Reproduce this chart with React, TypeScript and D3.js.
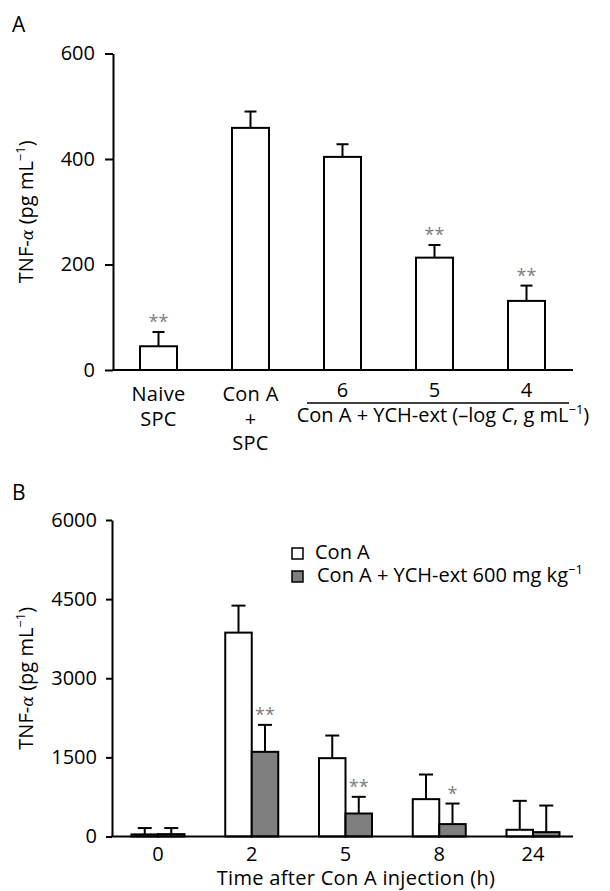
import React, { useEffect, useRef } from "react";
import * as d3 from "d3";

// panel A: in vitro, Con A stimulated spleen cells
const catsA = ["naive", "conA", "6", "5", "4"];
const meanA = [45, 459, 404, 213, 131];
const errA = [27, 31, 24, 24, 29];
const sigA = ["**", "", "", "**", "**"];
const ticksA = [0, 200, 400, 600];

// panel B: time course in vivo
const timesB = ["0", "2", "5", "8", "24"];
const seriesB = ["Con A", "Con A + YCH-ext 600 mg kg"];
const conA = [40, 3865, 1485, 708, 127];
const conAErr = [120, 512, 429, 467, 549];
const ych = [45, 1605, 436, 235, 83];
const ychErr = [115, 511, 316, 390, 504];
const sigB = ["", "**", "**", "*", ""];
const ticksB = [0, 1500, 3000, 4500, 6000];

const FONT = "'Open Sans', 'Noto Sans', sans-serif";
const FS = "20px";
const SUP = "13px";
const GRAY = "#7f7f7f";

const App = () => {
  const ref = useRef<SVGSVGElement>(null);

  useEffect(() => {
    document.body.style.margin = "0";
    const svg = d3.select(ref.current);
    svg.selectAll("*").remove();
    svg.style("font-family", FONT);

    // y label with italic alpha and superscript -1
    const yLabel = (cx: number, cy: number) => {
      const t = svg.append("text")
        .attr("transform", `translate(${cx},${cy}) rotate(-90)`)
        .attr("text-anchor", "middle")
        .style("font-size", FS);
      t.append("tspan").text("TNF-");
      t.append("tspan").style("font-family", "'DejaVu Serif', serif").style("font-style", "italic").style("font-size", "16px").text("α");
      t.append("tspan").text(" (pg mL");
      t.append("tspan").attr("dy", -8).style("font-size", SUP).text("−1");
      t.append("tspan").attr("dy", 8).text(")");
    };

    const errBar = (g: any, cx: number, yTop: number, yErr: number, cap: number) => {
      g.append("line").attr("x1", cx).attr("x2", cx).attr("y1", yTop).attr("y2", yErr)
        .attr("stroke", "#000").attr("stroke-width", 2);
      g.append("line").attr("x1", cx - cap / 2).attr("x2", cx + cap / 2).attr("y1", yErr).attr("y2", yErr)
        .attr("stroke", "#000").attr("stroke-width", 2);
    };

    // ---------- Panel A ----------
    const yA = d3.scaleLinear().domain([0, 600]).range([370, 53.5]);
    const xA = d3.scalePoint().domain(catsA).range([158.5, 526.5]);
    const bwA = 37;

    svg.append("text").attr("x", 12).attr("y", 32).style("font-size", "21px").text("A");

    const axA = svg.append("g").attr("transform", "translate(113,0)")
      .call(d3.axisLeft(yA).tickValues(ticksA).tickFormat(d3.format("d")).tickSize(8).tickPadding(10).tickSizeOuter(0));
    axA.selectAll("path, line").attr("stroke", "#000").attr("stroke-width", 2);
    axA.selectAll("text").style("font-size", FS).style("font-family", FONT).attr("fill", "#000");

    const gA = svg.append("g");
    catsA.forEach((c, i) => {
      const cx = xA(c)!;
      gA.append("rect").attr("x", cx - bwA / 2).attr("y", yA(meanA[i]))
        .attr("width", bwA).attr("height", yA(0) - yA(meanA[i]))
        .attr("fill", "#fff").attr("stroke", "#000").attr("stroke-width", 2);
      errBar(gA, cx, yA(meanA[i]), yA(meanA[i] + errA[i]), 12);
      if (sigA[i]) {
        gA.append("text").attr("x", cx).attr("y", yA(meanA[i] + errA[i]) - 4)
          .attr("text-anchor", "middle").style("font-size", "18px").attr("fill", "#808080").text(sigA[i]);
      }
    });
    svg.append("line").attr("x1", 112).attr("x2", 573).attr("y1", yA(0)).attr("y2", yA(0))
      .attr("stroke", "#000").attr("stroke-width", 2);

    // x labels of panel A
    const lab = (x: number, y: number, s: string) =>
      svg.append("text").attr("x", x).attr("y", y).attr("text-anchor", "middle")
        .style("font-size", FS).style("letter-spacing", "0.3px").text(s);
    lab(xA("naive")!, 401, "Naive");
    lab(xA("naive")!, 426, "SPC");
    lab(xA("conA")!, 401, "Con A");
    lab(xA("conA")!, 426, "+");
    lab(xA("conA")!, 450, "SPC");
    ["6", "5", "4"].forEach(c => lab(xA(c)!, 397, c));
    svg.append("line").attr("x1", 307).attr("x2", 569).attr("y1", 403).attr("y2", 403)
      .attr("stroke", "#000").attr("stroke-width", 1.5);
    const gl = svg.append("text").attr("x", 443).attr("y", 422).attr("text-anchor", "middle").style("font-size", FS);
    gl.append("tspan").text("Con A + YCH-ext (–log ");
    gl.append("tspan").style("font-style", "italic").text("C");
    gl.append("tspan").text(", g mL");
    gl.append("tspan").attr("dy", -8).style("font-size", SUP).text("−1");
    gl.append("tspan").attr("dy", 8).text(")");

    yLabel(33, (yA(0) + yA(600)) / 2);

    // ---------- Panel B ----------
    const yB = d3.scaleLinear().domain([0, 6000]).range([836.5, 520]);
    const xB = d3.scalePoint().domain(timesB).range([158, 533]);
    const xS = d3.scaleBand().domain(seriesB).range([-26.5, 26.5]);
    const fills = ["#fff", GRAY];

    svg.append("text").attr("x", 12).attr("y", 500).style("font-size", "21px").text("B");

    const axB = svg.append("g").attr("transform", "translate(112,0)")
      .call(d3.axisLeft(yB).tickValues(ticksB).tickFormat(d3.format("d")).tickSize(6).tickPadding(9).tickSizeOuter(0));
    axB.selectAll("path, line").attr("stroke", "#000").attr("stroke-width", 2);
    axB.selectAll("text").style("font-size", FS).style("font-family", FONT).attr("fill", "#000");

    const gB = svg.append("g");
    const vals = [conA, ych];
    const errs = [conAErr, ychErr];
    timesB.forEach((t, i) => {
      seriesB.forEach((s, k) => {
        const x0 = xB(t)! + xS(s)!;
        const bw = xS.bandwidth();
        const v = vals[k][i];
        gB.append("rect").attr("x", x0).attr("y", yB(v))
          .attr("width", bw).attr("height", yB(0) - yB(v))
          .attr("fill", fills[k]).attr("stroke", "#000").attr("stroke-width", 2);
        errBar(gB, x0 + bw / 2, yB(v), yB(v + errs[k][i]), 14);
        if (k === 1 && sigB[i]) {
          gB.append("text").attr("x", x0 + bw / 2).attr("y", yB(v + errs[k][i]) - 4)
            .attr("text-anchor", "middle").style("font-size", "18px").attr("fill", "#808080").text(sigB[i]);
        }
      });
      svg.append("text").attr("x", xB(t)!).attr("y", 861).attr("text-anchor", "middle")
        .style("font-size", FS).text(t);
    });
    svg.append("line").attr("x1", 111).attr("x2", 573).attr("y1", yB(0)).attr("y2", yB(0))
      .attr("stroke", "#000").attr("stroke-width", 2);

    svg.append("text").attr("x", 356).attr("y", 885).attr("text-anchor", "middle")
      .style("font-size", FS).style("letter-spacing", "0.3px").text("Time after Con A injection (h)");

    yLabel(33, (yB(0) + yB(6000)) / 2);

    // legend
    const lg = svg.append("g").attr("transform", "translate(292,0)");
    seriesB.forEach((s, k) => {
      const by = 559 + k * 23;
      lg.append("rect").attr("x", 0).attr("y", by - 11).attr("width", 11).attr("height", 11)
        .attr("fill", fills[k]).attr("stroke", "#000").attr("stroke-width", 1.5);
      const t = lg.append("text").attr("x", 23 + k * 2).attr("y", by).style("font-size", FS);
      t.append("tspan").text(s);
      if (k === 1) t.append("tspan").attr("dy", -8).style("font-size", SUP).text("−1");
    });
  }, []);

  return <svg ref={ref} width="610" height="891" style={{ display: "block" }}></svg>;
};

export default App;
